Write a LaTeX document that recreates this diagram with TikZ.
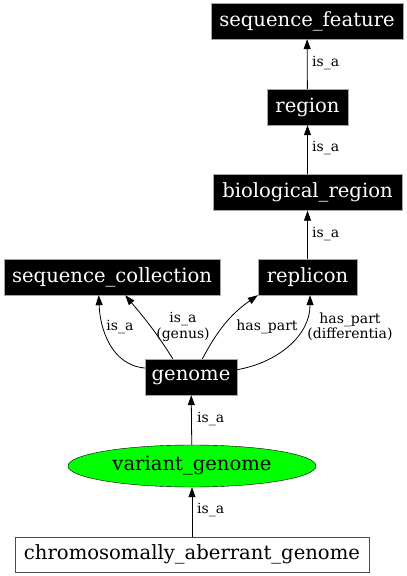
\documentclass[tikz,border=0pt]{standalone}
\usepackage{fontspec}
\setmainfont{DejaVu Serif}
\usetikzlibrary{shapes.geometric,arrows.meta}
\begin{document}
\begin{tikzpicture}[
    x=1pt, y=1pt,
    term/.style={draw=gray!70, fill=black, text=white, font=\fontsize{19.6}{22}\selectfont, minimum height=36pt, inner sep=0pt},
    lbl/.style={font=\fontsize{14}{15.5}\selectfont, align=center, inner sep=0pt},
    rel/.style={-{Triangle[length=10pt,width=7pt]}, line width=0.8pt}
]
    \useasboundingbox (0,0) rectangle (407,576);

    % Draw the terms
    \node[term, minimum width=192pt] (SF) at (307,555) {sequence\_feature};
    \node[term, minimum width=81pt] (REG) at (307.5,469) {region};
    \node[term, minimum width=189pt] (BIO) at (307.5,383.5) {biological\_region};
    \node[term, minimum width=216pt] (SC) at (112,299) {sequence\_collection};
    \node[term, minimum width=99pt] (REP) at (307.5,299) {replicon};
    \node[term, minimum width=92pt] (GEN) at (191,199) {genome};
    \node[term, ellipse, draw=black, fill=green, text=black, minimum width=248pt, minimum height=42pt] (VG) at (192,110) {variant\_genome};
    \node[term, draw=black!70, fill=white, text=black, minimum width=354pt, minimum height=35pt] (CAG) at (192,21.5) {chromosomally\_aberrant\_genome};

    % Draw the straight is_a edges
    \draw[rel] (REG) -- (SF);
    \draw[rel] (BIO) -- (REG);
    \draw[rel] (REP) -- (BIO);
    \draw[rel] (VG) -- (GEN);
    \draw[rel] (CAG) -- (VG);

    % Draw the curved edges from genome
    \draw[rel] (GEN.169) to[out=175, in=-88] (SC.234);
    \draw[rel] (GEN.135) to[out=122, in=-50] (SC.306);
    \draw[rel] (GEN.58) to[out=62, in=-145] (REP.south west);
    \draw[rel] (GEN.9) to[out=10, in=-90] (REP.278);

    % Label the edges
    \node[lbl, anchor=west] (L1) at (312,513) {is\_a};
    \node[lbl, anchor=west] (L2) at (312,428) {is\_a};
    \node[lbl, anchor=west] (L3) at (312,342) {is\_a};
    \node[lbl, anchor=west] (L4) at (197,157) {is\_a};
    \node[lbl, anchor=west] (L5) at (197,66) {is\_a};
    \node[lbl] (L6) at (120,249) {is\_a};
    \node[lbl] (L7) at (183,249) {is\_a\\(genus)};
    \node[lbl] (L8) at (267,249) {has\_part};
    \node[lbl] (L9) at (350,249) {has\_part\\(differentia)};

\end{tikzpicture}
\end{document}
